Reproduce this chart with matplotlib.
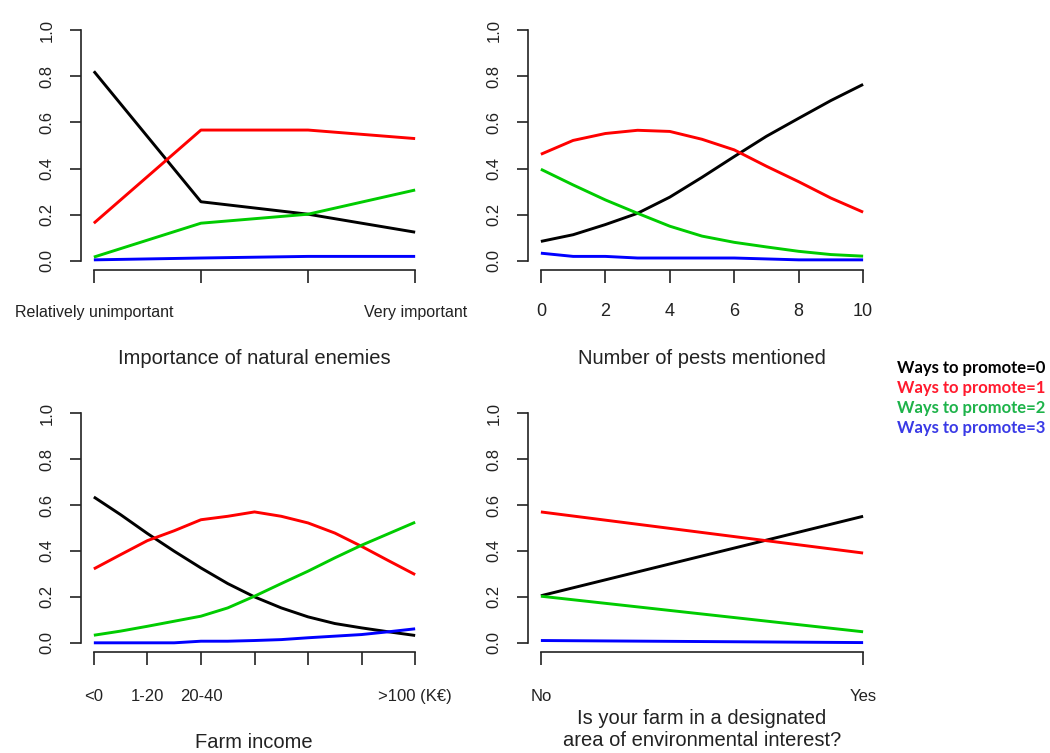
import matplotlib
matplotlib.use("Agg")
import matplotlib.pyplot as plt

W, H = 1050, 753

# ---------------- data ----------------
# Panel 1: importance of natural enemies
ne_x = [1, 2, 3, 4]
ne_ticklabels = ["Relatively unimportant", "", "", "Very important"]
ne_p0 = [0.822, 0.256, 0.202, 0.124]
ne_p1 = [0.163, 0.567, 0.567, 0.530]
ne_p2 = [0.016, 0.163, 0.202, 0.307]
ne_p3 = [0.004, 0.012, 0.019, 0.019]

# Panel 2: number of pests mentioned
pe_x = [0, 1, 2, 3, 4, 5, 6, 7, 8, 9, 10]
pe_ticks = [0, 2, 4, 6, 8, 10]
pe_p0 = [0.084, 0.113, 0.157, 0.206, 0.276, 0.362, 0.452, 0.540, 0.618, 0.695, 0.765]
pe_p1 = [0.462, 0.522, 0.552, 0.566, 0.561, 0.527, 0.481, 0.410, 0.343, 0.272, 0.211]
pe_p2 = [0.397, 0.329, 0.264, 0.206, 0.150, 0.107, 0.080, 0.060, 0.041, 0.027, 0.020]
pe_p3 = [0.033, 0.019, 0.019, 0.012, 0.012, 0.012, 0.012, 0.008, 0.004, 0.004, 0.004]

# Panel 3: farm income
fi_x = [1, 1.5, 2, 2.5, 3, 3.5, 4, 4.5, 5, 5.5, 6, 6.5, 7]
fi_ticks = [1, 2, 3, 4, 5, 6, 7]
fi_ticklabels = ["<0", "1-20", "20-40", "", "", "", ">100 (K\u20ac)"]
fi_p0 = [0.635, 0.558, 0.476, 0.399, 0.326, 0.258, 0.200, 0.152, 0.113, 0.084, 0.065, 0.048, 0.032]
fi_p1 = [0.322, 0.384, 0.445, 0.488, 0.536, 0.551, 0.570, 0.551, 0.522, 0.478, 0.420, 0.358, 0.297]
fi_p2 = [0.033, 0.051, 0.072, 0.094, 0.116, 0.152, 0.203, 0.258, 0.312, 0.370, 0.425, 0.475, 0.525]
fi_p3 = [0.000, 0.000, 0.000, 0.000, 0.007, 0.007, 0.010, 0.014, 0.022, 0.029, 0.036, 0.048, 0.061]

# Panel 4: designated area
da_x = [0, 1]
da_ticklabels = ["No", "Yes"]
da_p0 = [0.205, 0.551]
da_p1 = [0.570, 0.391]
da_p2 = [0.203, 0.048]
da_p3 = [0.010, 0.001]

line_colors = ["black", "#FF0000", "#00CC00", "#0000FF"]
legend_labels = ["Ways to promote=0", "Ways to promote=1", "Ways to promote=2", "Ways to promote=3"]
legend_colors = ["#000000", "#FF1A2E", "#1DB34A", "#3A3AE6"]

# ---------------- figure ----------------
plt.rcParams['font.family'] = ['Liberation Sans', 'DejaVu Sans']
fig = plt.figure(figsize=(W / 100, H / 100), dpi=100)
TXT = "#222222"


def add_ax(l, t, r, b):
    return fig.add_axes([l / W, 1 - b / H, (r - l) / W, (b - t) / H])


def style(ax, xmin, xmax, ticks, labels, lab_size=12, xpad=16):
    pad = 0.04 * (xmax - xmin)
    ax.set_xlim(xmin - pad, xmax + pad)
    ax.set_ylim(-0.04, 1.04)
    for s in ["top", "right"]:
        ax.spines[s].set_visible(False)
    ax.spines["left"].set_bounds(0, 1)
    ax.spines["bottom"].set_bounds(xmin, xmax)
    for s in ["left", "bottom"]:
        ax.spines[s].set_linewidth(1.2)
        ax.spines[s].set_color("#222222")
    ax.set_yticks([0, 0.2, 0.4, 0.6, 0.8, 1.0])
    ax.set_yticklabels(["0.0", "0.2", "0.4", "0.6", "0.8", "1.0"], rotation=90,
                       va="center", fontsize=12, color=TXT)
    ax.set_xticks(ticks)
    ax.set_xticklabels(labels, fontsize=lab_size, color=TXT)
    ax.tick_params(axis="y", direction="out", length=8, width=1.2, pad=11, color="#222222")
    ax.tick_params(axis="x", direction="out", length=9, width=1.2, pad=xpad, color="#222222")
    ax.patch.set_alpha(0)


def draw(ax, x, series):
    for y, c in zip(series, line_colors):
        ax.plot(x, y, color=c, lw=2.1, solid_capstyle="butt")


ax1 = add_ax(81, 21, 428, 270)
draw(ax1, ne_x, [ne_p0, ne_p1, ne_p2, ne_p3])
style(ax1, 1, 4, ne_x, ne_ticklabels, lab_size=11.5, xpad=16)

ax2 = add_ax(528, 21, 876, 270)
draw(ax2, pe_x, [pe_p0, pe_p1, pe_p2, pe_p3])
style(ax2, 0, 10, pe_ticks, [str(t) for t in pe_ticks], lab_size=13, xpad=15)

ax3 = add_ax(81, 404, 428, 652)
draw(ax3, fi_x, [fi_p0, fi_p1, fi_p2, fi_p3])
style(ax3, 1, 7, fi_ticks, fi_ticklabels, lab_size=12, xpad=17.5)

ax4 = add_ax(528, 404, 876, 652)
draw(ax4, da_x, [da_p0, da_p1, da_p2, da_p3])
style(ax4, 0, 1, da_x, da_ticklabels, lab_size=12, xpad=17.5)

# axis titles
def ftext(x, y, s, **kw):
    fig.text(x / W, 1 - y / H, s, ha="center", va="center", color=TXT, **kw)

ftext(254, 358, "Importance of natural enemies", fontsize=14.5)
ftext(702, 358, "Number of pests mentioned", fontsize=14.5)
ftext(254, 742, "Farm income", fontsize=14.5)
ftext(702, 718, "Is your farm in a designated", fontsize=14.5)
ftext(702, 740, "area of environmental interest?", fontsize=14.5)

# legend (plain text)
for i, (lab, col) in enumerate(zip(legend_labels, legend_colors)):
    fig.text(897 / W, 1 - (368 + 20 * i) / H, lab, ha="left", va="center",
             color=col, fontsize=12, fontweight="bold", family=["Lato", "DejaVu Sans"])

fig.savefig("out.png", dpi=100)
